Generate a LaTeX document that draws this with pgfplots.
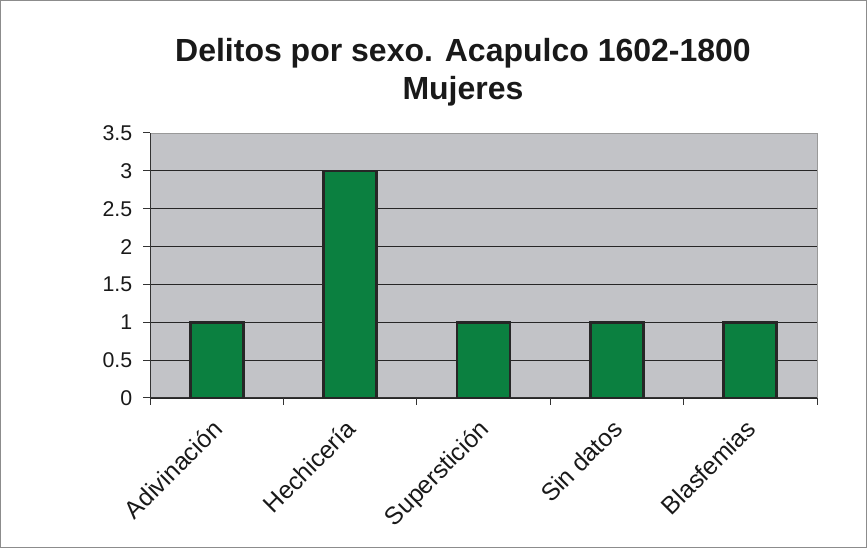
\documentclass[border=0pt]{standalone}
\usepackage{pgfplots}
\pgfplotsset{compat=1.18}
\usepackage{fontspec}
\setmainfont{Liberation Sans}
\definecolor{plotbg}{RGB}{194,195,199}
\definecolor{bargreen}{RGB}{11,128,64}
\begin{document}
\begin{tikzpicture}[x=0.75pt,y=0.75pt]
\useasboundingbox (0,0) rectangle (867,548);
\draw[black!45, line width=0.75pt] (0.5,0.5) rectangle (866.5,547.5);
\node[font=\bfseries\fontsize{24}{28.5}\selectfont, align=center, text=black!90] at (463,476) {Delitos por sexo. Acapulco 1602-1800\\Mujeres};
\begin{axis}[at={(112.5pt,112.5pt)}, anchor=south west, scale only axis,
  width=500.25pt, height=198.75pt,
  xmin=0.5, xmax=5.5, ymin=0, ymax=3.5,
  axis background/.style={fill=plotbg, draw=black!40},
  axis lines*=left, axis line style={-, draw=black!80, line width=0.75pt},
  ytick={0,0.5,...,3}, extra y ticks={3.5}, extra y tick style={grid=none},
  ymajorgrids, grid style={black!85, line width=0.6pt},
  /pgf/number format/assume math mode=true,
  y tick label style={font=\fontsize{16}{19}\selectfont, text=black!90, xshift=-4.5pt},
  xtick={1,...,5},
  xticklabels={Adivinación, Hechicería, Superstición, Sin datos, Blasfemias},
  x tick label style={rotate=45, anchor=north east, font=\fontsize{18.5}{21}\selectfont, text=black!90, xshift=-6.5pt, yshift=-0.5pt},
  major x tick style={draw=none},
  minor xtick={0.5,1.5,...,5.5},
  tick align=outside, major tick length=5.25pt, minor tick length=5.25pt,
  tick style={black!80, line width=0.75pt},
]
\addplot[ybar, bar width=39.75pt, fill=bargreen, draw=black!85, line width=2pt]
  coordinates {(1,1) (2,3) (3,1) (4,1) (5,1)};
\end{axis}
\end{tikzpicture}
\end{document}
